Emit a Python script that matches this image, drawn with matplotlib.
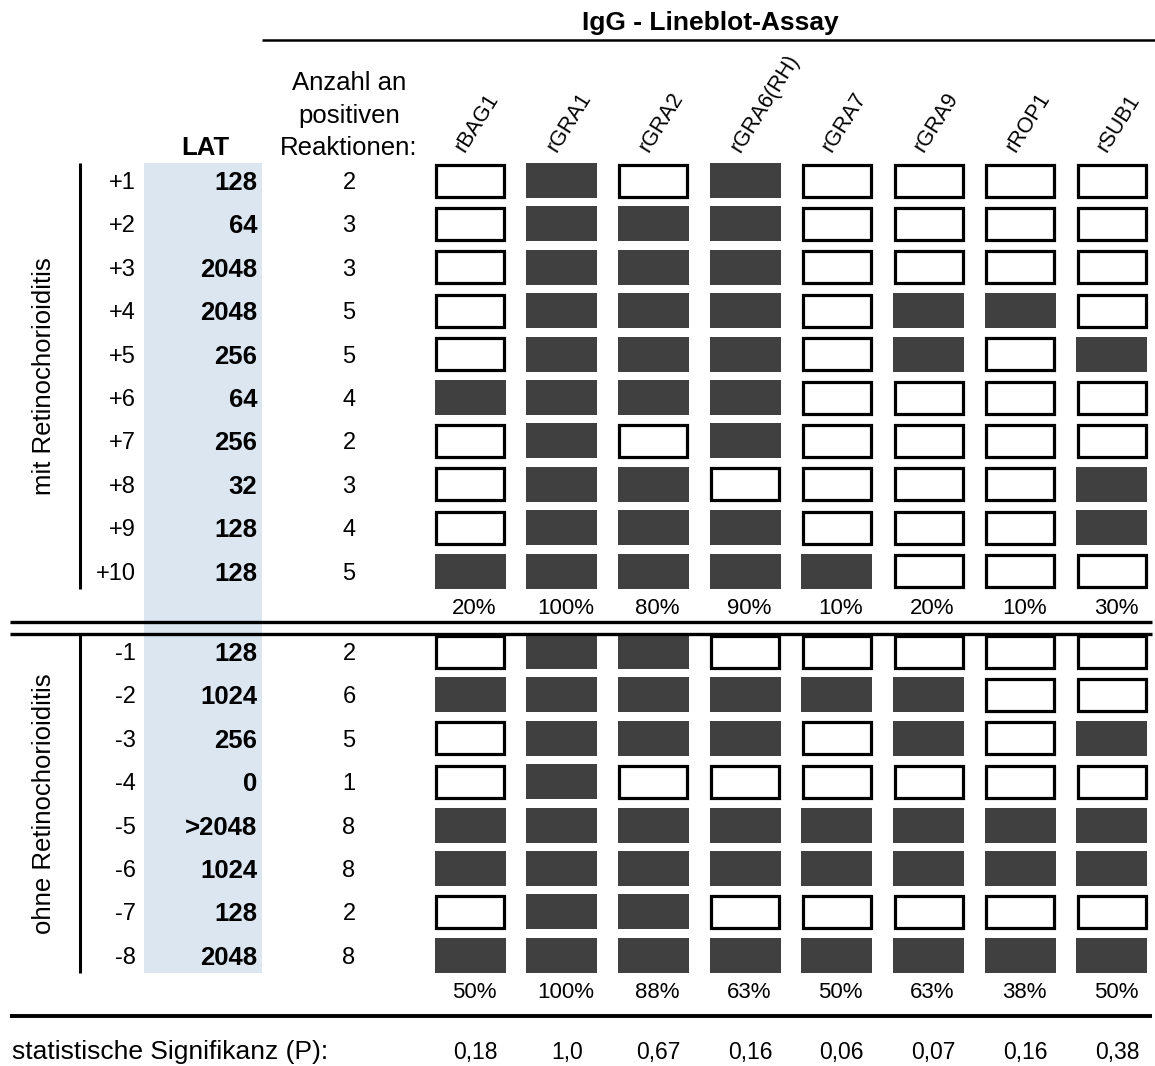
import numpy as np
import matplotlib
matplotlib.use("Agg")
import matplotlib.pyplot as plt
from matplotlib.patches import Rectangle

plt.rcParams['font.family'] = ['Liberation Sans', 'DejaVu Sans']

# Antigene des Lineblots
antigene = ['rBAG1', 'rGRA1', 'rGRA2', 'rGRA6(RH)', 'rGRA7', 'rGRA9', 'rROP1', 'rSUB1']

# Patienten mit Retinochorioiditis
pat_mit = ['+1', '+2', '+3', '+4', '+5', '+6', '+7', '+8', '+9', '+10']
lat_mit = ['128', '64', '2048', '2048', '256', '64', '256', '32', '128', '128']
blot_mit = np.array([
    [0, 1, 0, 1, 0, 0, 0, 0],
    [0, 1, 1, 1, 0, 0, 0, 0],
    [0, 1, 1, 1, 0, 0, 0, 0],
    [0, 1, 1, 1, 0, 1, 1, 0],
    [0, 1, 1, 1, 0, 1, 0, 1],
    [1, 1, 1, 1, 0, 0, 0, 0],
    [0, 1, 0, 1, 0, 0, 0, 0],
    [0, 1, 1, 0, 0, 0, 0, 1],
    [0, 1, 1, 1, 0, 0, 0, 1],
    [1, 1, 1, 1, 1, 0, 0, 0],
])

# Patienten ohne Retinochorioiditis
pat_ohne = ['-1', '-2', '-3', '-4', '-5', '-6', '-7', '-8']
lat_ohne = ['128', '1024', '256', '0', '>2048', '1024', '128', '2048']
blot_ohne = np.array([
    [0, 1, 1, 0, 0, 0, 0, 0],
    [1, 1, 1, 1, 1, 1, 0, 0],
    [0, 1, 1, 1, 0, 1, 0, 1],
    [0, 1, 0, 0, 0, 0, 0, 0],
    [1, 1, 1, 1, 1, 1, 1, 1],
    [1, 1, 1, 1, 1, 1, 1, 1],
    [0, 1, 1, 0, 0, 0, 0, 0],
    [1, 1, 1, 1, 1, 1, 1, 1],
])

p_werte = ['0,18', '1,0', '0,67', '0,16', '0,06', '0,07', '0,16', '0,38']

kopf = ['Anzahl an', 'positiven', 'Reaktionen:']

# Layout in Pixeln
W, H = 1155, 1066
fig = plt.figure(figsize=(W / 100, H / 100), dpi=100)
ax = fig.add_axes([0, 0, 1, 1])
ax.set_xlim(0, W)
ax.set_ylim(H, 0)
ax.axis('off')

col_x = 470 + 91.7 * np.arange(len(antigene))
y_mit = 180.5 + 43.4 * np.arange(len(pat_mit))
y_ohne = 651.5 + 43.4 * np.arange(len(pat_ohne))
box_w, box_h = 71, 35
dunkel = '#404040'

# LAT-Spalte hinterlegt
ax.add_patch(Rectangle((144, y_mit[0] - box_h / 2), 118, y_ohne[-1] + box_h / 2 - (y_mit[0] - box_h / 2),
                       fc='#dce6f1', ec='none', zorder=0))

# Titel und Kopfzeilen
ax.text(710, 23, 'IgG - Lineblot-Assay', ha='center', va='center', fontsize=19, fontweight='bold')
ax.plot([262, W], [39.5, 39.5], color='black', lw=1.8, solid_capstyle='butt')
for k, zeile in enumerate(kopf):
    ax.text(349, 90 + 32.5 * k, zeile, ha='center', va='baseline', fontsize=18.5)
ax.text(205, 155, 'LAT', ha='center', va='baseline', fontsize=18.5, fontweight='bold')
for x, name in zip(col_x, antigene):
    ax.text(x - 5, 153, name, rotation=58, rotation_mode='anchor',
            ha='left', va='baseline', fontsize=15.5)


def gruppe(y_rows, pats, lats, blot, titel):
    for i, y in enumerate(y_rows):
        ax.text(136, y, pats[i], ha='right', va='center_baseline', fontsize=17)
        ax.text(257, y, lats[i], ha='right', va='center_baseline', fontsize=18.5, fontweight='bold')
        ax.text(349, y, str(blot[i].sum()), ha='center', va='center_baseline', fontsize=17)
        for j, x in enumerate(col_x):
            if blot[i, j]:
                ax.add_patch(Rectangle((x - box_w / 2, y - box_h / 2), box_w, box_h,
                                       fc=dunkel, ec='none'))
            else:
                ax.add_patch(Rectangle((x - box_w / 2 + 1.5, y - box_h / 2 + 1.5), box_w - 3, box_h - 3,
                                       fc='white', ec='black', lw=2.3, joinstyle='miter'))
    # Anteil positiver Reaktionen je Antigen
    anteil = blot.mean(axis=0) * 100
    y_pct = y_rows[-1] + box_h / 2 + 17
    for x, p in zip(col_x, anteil):
        ax.text(x + 4, y_pct, f'{int(np.floor(p + 0.5))}%', ha='center', va='center_baseline', fontsize=16)
    top = y_rows[0] - box_h / 2
    bot = y_rows[-1] + box_h / 2
    ax.plot([80, 80], [top, bot], color='black', lw=2.2, solid_capstyle='butt')
    ax.text(44, (top + bot) / 2, titel, rotation=90, ha='center', va='center', fontsize=18.5)


gruppe(y_mit, pat_mit, lat_mit, blot_mit, 'mit Retinochorioiditis')
gruppe(y_ohne, pat_ohne, lat_ohne, blot_ohne, 'ohne Retinochorioiditis')

# Trennlinien
for y in (621.5, 633.5):
    ax.plot([10, 1152], [y, y], color='black', lw=2.4, solid_capstyle='butt')
ax.plot([10, 1152], [1016, 1016], color='black', lw=2.8, solid_capstyle='butt')

# Signifikanz
ax.text(12, 1050, 'statistische Signifikanz (P):', ha='left', va='center_baseline', fontsize=19)
for x, p in zip(col_x, p_werte):
    ax.text(x + 5, 1050, p, ha='center', va='center_baseline', fontsize=16.5)

fig.savefig('out.png', dpi=100)
